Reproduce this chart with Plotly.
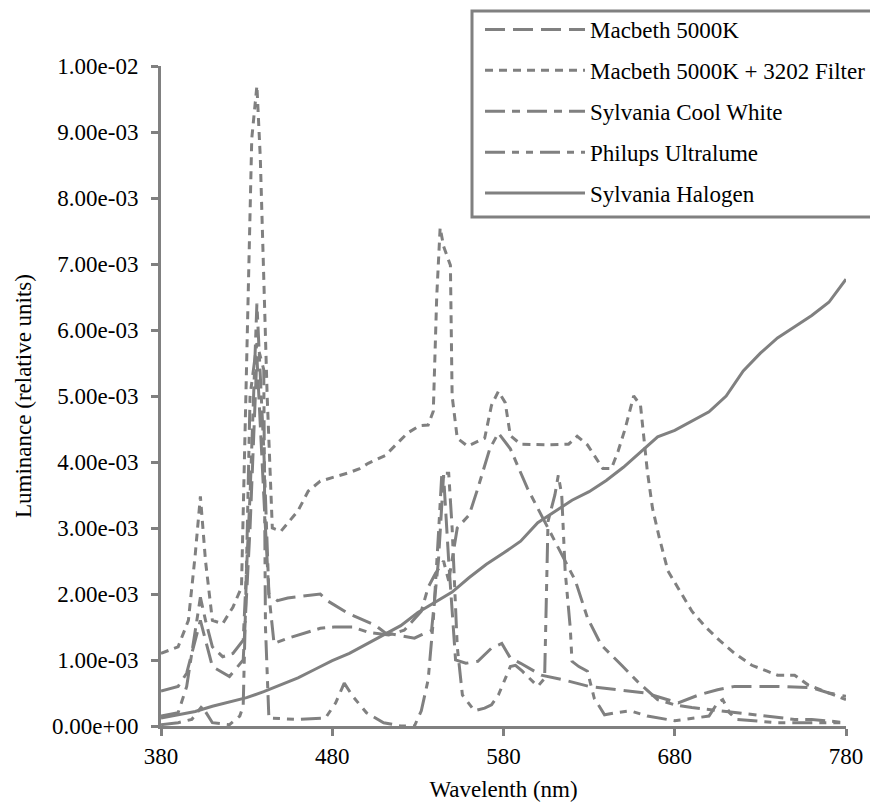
import plotly.graph_objects as go

# ---------------- data (luminance in units of 1e-3) ----------------
halogen_wl = [380, 390, 400, 410, 420, 430, 440, 450, 460, 470, 480, 490, 500, 510, 520, 530, 540, 550,
              560, 570, 580, 590, 600, 610, 620, 630, 640, 650, 660, 670, 680, 690, 700, 710, 720, 730,
              740, 750, 760, 770, 780]
halogen_val = [0.12, 0.17, 0.22, 0.3, 0.36, 0.43, 0.52, 0.63, 0.73, 0.86, 0.99, 1.1, 1.24, 1.37, 1.52, 1.72,
               1.88, 2.03, 2.25, 2.45, 2.62, 2.8, 3.08, 3.25, 3.42, 3.55, 3.72, 3.92, 4.15, 4.38, 4.48, 4.62,
               4.76, 5.0, 5.38, 5.65, 5.88, 6.05, 6.22, 6.42, 6.77]

filter_wl = [380, 390, 396, 400, 403, 406, 410, 416, 422, 427, 430, 433, 436, 438, 440, 442, 445, 450, 460,
             466, 473, 483, 490, 496, 501, 511, 517, 524, 531, 536, 539, 541, 543, 545, 549, 550, 553, 559,
             569, 573, 577, 581, 584, 590, 605, 618, 623, 629, 633, 638, 643, 647, 651, 656, 660, 664, 667,
             671, 676, 682, 690, 698, 706, 715, 725, 734, 740, 750, 758, 765, 772, 780]
filter_val = [1.1, 1.2, 1.6, 2.6, 3.48, 2.5, 1.6, 1.55, 1.8, 2.1, 5.5, 8.9, 9.7, 8.6, 6.8, 5.0, 3.0, 2.95,
              3.26, 3.56, 3.71, 3.79, 3.84, 3.9, 3.98, 4.1, 4.26, 4.44, 4.55, 4.56, 4.77, 6.5, 7.55, 7.27,
              6.98, 5.0, 4.36, 4.24, 4.36, 4.86, 5.07, 4.9, 4.4, 4.27, 4.26, 4.27, 4.39, 4.26, 4.1, 3.9,
              3.9, 4.17, 4.5, 5.0, 4.86, 3.86, 3.3, 2.85, 2.35, 2.09, 1.74, 1.5, 1.3, 1.1, 0.92, 0.83, 0.77,
              0.77, 0.62, 0.55, 0.48, 0.4]

cool_wl = [380, 390, 395, 400, 403, 406, 410, 416, 422, 428, 432, 436, 440, 443, 446, 454, 460, 473, 481,
           492, 501, 513, 522, 532, 536, 540, 545, 548, 553, 560, 565, 572, 577, 584, 594, 604, 612, 622,
           629, 637, 649, 658, 670, 680, 690, 700, 710, 720, 730, 740, 750, 760, 770, 780]
cool_val = [0.15, 0.2, 0.6, 1.4, 1.95, 1.6, 1.2, 1.05, 1.1, 1.3, 3.5, 6.4, 4.2, 2.0, 1.25, 1.33, 1.38,
            1.48, 1.5, 1.5, 1.42, 1.38, 1.45, 1.74, 2.1, 2.3, 2.5, 2.2, 3.0, 3.2, 3.6, 4.2, 4.44, 4.2, 3.6,
            3.1, 2.7, 2.2, 1.64, 1.23, 0.92, 0.68, 0.4, 0.32, 0.28, 0.25, 0.22, 0.18, 0.15, 0.12, 0.1,
            0.1, 0.08, 0.05]

macbeth_wl = [380, 390, 395, 400, 403, 406, 410, 420, 428, 432, 436, 440, 443, 448, 454, 473, 477, 489, 495,
              505, 511, 528, 532, 538, 542, 545, 548, 552, 558, 565, 573, 579, 584, 590, 602, 615, 630,
              645, 663, 682, 694, 705, 715, 740, 760, 770, 780]
macbeth_val = [0.53, 0.6, 0.8, 1.3, 1.6, 1.3, 0.9, 0.75, 1.0, 3.0, 5.6, 3.5, 2.0, 1.9, 1.94, 2.0, 1.9, 1.71,
               1.64, 1.53, 1.41, 1.33, 1.38, 1.45, 2.5, 3.8, 2.5, 1.0, 0.95, 0.98, 1.18, 1.25, 1.03, 0.95,
               0.77, 0.7, 0.6, 0.55, 0.5, 0.35, 0.47, 0.55, 0.6, 0.6, 0.58, 0.5, 0.45]

ultra_wl = [380, 390, 398, 404, 410, 420, 426, 428, 430, 432, 436, 440, 441, 443, 460, 476, 482, 487, 492,
            500, 510, 520, 528, 532, 536, 539, 542, 544, 548, 550, 553, 556, 563, 569, 573, 577, 584, 587,
            591, 600, 604, 605, 606, 610, 612, 614, 616, 619, 620, 624, 629, 633, 639, 645, 654, 664, 680,
            700, 705, 708, 712, 716, 740, 760, 780]
ultra_val = [0.02, 0.05, 0.1, 0.3, 0.05, 0.02, 0.15, 0.3, 2.5, 5.0, 5.8, 5.4, 1.5, 0.12, 0.1, 0.12, 0.35,
             0.65, 0.45, 0.2, 0.05, 0.0, 0.0, 0.23, 0.7, 1.6, 2.9, 3.83, 3.83, 3.0, 1.2, 0.47, 0.23, 0.27,
             0.32, 0.47, 0.9, 0.92, 0.83, 0.6, 0.72, 2.0, 3.1, 3.5, 3.8, 3.5, 2.35, 1.48, 0.98, 0.9, 0.83,
             0.42, 0.17, 0.2, 0.23, 0.15, 0.08, 0.15, 0.35, 0.4, 0.2, 0.1, 0.05, 0.05, 0.05]

series = [
    ("Macbeth 5000K", macbeth_wl, macbeth_val, "20px,8px"),
    ("Macbeth 5000K + 3202 Filter", filter_wl, filter_val, "8px,6px"),
    ("Sylvania Cool White", cool_wl, cool_val, "20px,7px,8px,7px"),
    ("Philups Ultralume", ultra_wl, ultra_val, "20px,7px,7px,7px,7px,7px"),
    ("Sylvania Halogen", halogen_wl, halogen_val, "solid"),
]

y_tick_vals = [0.0, 0.001, 0.002, 0.003, 0.004, 0.005, 0.006, 0.007, 0.008, 0.009, 0.010]
y_tick_text = ["0.00e+00", "1.00e-03", "2.00e-03", "3.00e-03", "4.00e-03", "5.00e-03",
               "6.00e-03", "7.00e-03", "8.00e-03", "9.00e-03", "1.00e-02"]
x_tick_vals = [380, 480, 580, 680, 780]

GRAY = "#808080"
FONT = "Liberation Serif, Times New Roman, DejaVu Serif, serif"
W, H = 878, 804
ML, MR, MT, MB = 153, 40, 58, 86
PW, PH = W - ML - MR, H - MT - MB

def px_x(p):  # pixel -> paper x
    return (p - ML) / PW

def px_y(p):  # pixel -> paper y
    return (H - MB - p) / PH

fig = go.Figure()
for i, (name, wl, vals, dash) in enumerate(series):
    fig.add_trace(go.Scatter(
        x=wl, y=[v * 1e-3 for v in vals], name=name, mode="lines",
        line=dict(color=GRAY, width=3, dash=dash),
        legendgroup="g%d" % i,
    ))

# legend frame
fig.add_shape(type="rect", xref="paper", yref="paper",
              x0=px_x(464), x1=px_x(875), y0=px_y(209), y1=px_y(3),
              line=dict(color=GRAY, width=3), fillcolor="rgba(0,0,0,0)", layer="above")

fig.update_layout(
    width=W, height=H,
    paper_bgcolor="white", plot_bgcolor="white",
    margin=dict(l=ML, r=MR, t=MT, b=MB, autoexpand=False),
    font=dict(family=FONT, size=23, color="black"),
    showlegend=True,
    legend=dict(
        x=472 / W, xref="container", y=1.0 + 1 / H, yref="container",
        xanchor="left", yanchor="top",
        bgcolor="rgba(0,0,0,0)", borderwidth=0,
        font=dict(family=FONT, size=23, color="black"),
        itemwidth=100, traceorder="grouped", tracegroupgap=8,
    ),
    xaxis=dict(
        range=[380, 780], tickvals=x_tick_vals, ticktext=[str(v) for v in x_tick_vals],
        showgrid=False, zeroline=False, showline=True, linecolor=GRAY, linewidth=3,
        ticks="outside", tickcolor=GRAY, tickwidth=3, ticklen=7,
        tickfont=dict(family=FONT, size=23, color="black"),
        title=dict(text="Wavelenth (nm)", standoff=14, font=dict(family=FONT, size=23, color="black")),
    ),
    yaxis=dict(
        range=[0, 0.010], tickvals=y_tick_vals, ticktext=y_tick_text,
        showgrid=False, zeroline=False, showline=True, linecolor=GRAY, linewidth=3,
        ticks="outside", tickcolor=GRAY, tickwidth=3, ticklen=7, ticklabelstandoff=8,
        tickfont=dict(family=FONT, size=23, color="black"),
        title=dict(text="Luminance (relative units)", standoff=14,
                   font=dict(family=FONT, size=23, color="black")),
    ),
)

fig.write_html("out.html")
